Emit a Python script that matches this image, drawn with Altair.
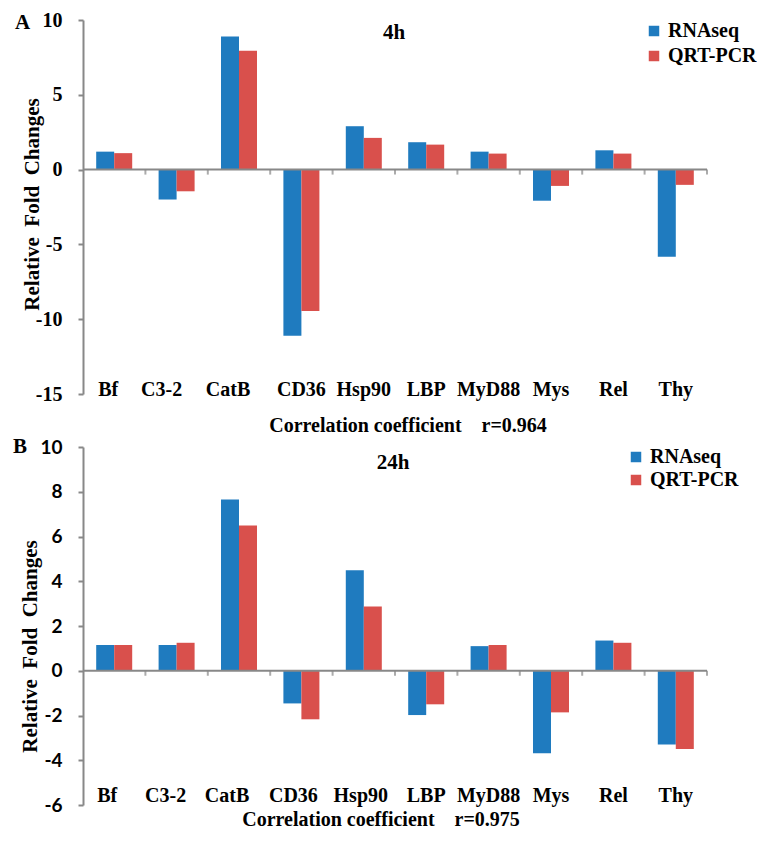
import altair as alt
import pandas as pd

genes = ["Bf", "C3-2", "CatB", "CD36", "Hsp90", "LBP", "MyD88", "Mys", "Rel", "Thy"]
series = ["RNAseq", "QRT-PCR"]

rnaseq_4h = [1.2, -2.0, 8.9, -11.1, 2.9, 1.83, 1.2, -2.08, 1.29, -5.83]
qrtpcr_4h = [1.1, -1.45, 7.95, -9.45, 2.12, 1.67, 1.07, -1.09, 1.07, -1.02]
rnaseq_24h = [1.15, 1.15, 7.65, -1.46, 4.49, -1.98, 1.1, -3.69, 1.35, -3.3]
qrtpcr_24h = [1.15, 1.25, 6.49, -2.17, 2.87, -1.5, 1.15, -1.86, 1.25, -3.5]

ticks_4h = [-15, -10, -5, 0, 5, 10]
ticks_24h = [-6, -4, -2, 0, 2, 4, 6, 8, 10]

BLUE = "#1f7bbf"
RED = "#d9504c"
GRAY = "#888888"
SERIF = "Liberation Serif"
NB = "\u00a0"

# small horizontal nudges of the category labels (layout only)
NUDGE_TOP = "datum.value=='Bf'?-6:datum.value=='C3-2'?-15:datum.value=='CatB'?-11:0"
NUDGE_BOT = "datum.value=='Bf'?-7:datum.value=='C3-2'?-11:datum.value=='CatB'?-12:datum.value=='CD36'?-8:datum.value=='Hsp90'?-3:0"


def panel(rna, qpcr, domain, ticks, height, tick_font, tick_size,
          label_pad, nudge, title_x, title_y, legend_x, legend_y, row_pad,
          tag, tag_xy, ptitle, ptitle_xy, corr, corr_xy):
    df = pd.DataFrame({
        "gene": genes * 2,
        "series": [series[0]] * len(genes) + [series[1]] * len(genes),
        "value": rna + qpcr,
    })
    x = alt.X(
        "gene:N", sort=genes,
        scale=alt.Scale(paddingInner=0, paddingOuter=0),
        axis=alt.Axis(
            title=None, domain=False, ticks=False, labelAngle=0,
            labelFont=SERIF, labelFontSize=20, labelFontWeight="bold",
            labelColor="black", labelBaseline="middle",
            labelPadding=label_pad, labelOverlap=False, labelBound=False,
            labelOffset={"expr": nudge},
        ),
    )
    y = alt.Y(
        "value:Q",
        scale=alt.Scale(domain=domain, nice=False, zero=False),
        axis=alt.Axis(
            values=ticks, grid=False,
            title=f"Relative{NB}{NB}Fold{NB}{NB}Changes",
            labelExpr="'' + datum.value",
            domainColor=GRAY, domainWidth=2, tickColor=GRAY, tickWidth=2,
            tickSize=5, labelFont=tick_font, labelFontSize=tick_size,
            labelFontWeight="bold", labelColor="black", labelPadding=16,
            titleFont=SERIF, titleFontSize=21, titleFontWeight="bold",
            titleColor="black", titleAngle=270, titleX=title_x,
            titleY=title_y, titleAlign="center", titleBaseline="middle",
        ),
    )
    bars = alt.Chart(df).mark_bar().encode(
        x=x,
        xOffset=alt.XOffset("series:N", sort=series,
                            scale=alt.Scale(paddingOuter=0.733, paddingInner=0)),
        y=y,
        color=alt.Color(
            "series:N", sort=series,
            scale=alt.Scale(domain=series, range=[BLUE, RED]),
            legend=alt.Legend(
                title=None, orient="none", legendX=legend_x, legendY=legend_y,
                labelFont=SERIF, labelFontSize=20, labelFontWeight="bold",
                labelColor="black", symbolType="square", symbolSize=110,
                symbolStrokeWidth=0, rowPadding=row_pad, labelOffset=4,
                padding=0,
            ),
        ),
    )
    zero = alt.Chart(pd.DataFrame({"v": [0]})).mark_rule(
        color=GRAY, strokeWidth=2
    ).encode(y=alt.Y("v:Q"))
    tk = alt.Chart(pd.DataFrame({"gene": genes})).mark_tick(
        orient="vertical", size=5, thickness=2, yOffset=2.5, color=GRAY
    ).encode(x=alt.X("gene:N", sort=genes, bandPosition=1), y=alt.datum(0))

    def txt(s, xy, size, baseline="middle", align="center"):
        return alt.Chart(pd.DataFrame({"t": [s]})).mark_text(
            font=SERIF, fontSize=size, fontWeight="bold", color="black",
            align=align, baseline=baseline,
        ).encode(text="t:N", x=alt.value(xy[0]), y=alt.value(xy[1]))

    return alt.layer(
        bars, zero, tk,
        txt(tag, tag_xy, 21, "alphabetic", "left"),
        txt(ptitle, ptitle_xy, 21),
        txt(corr, corr_xy, 20),
    ).properties(width=624, height=height)


corr_top = f"Correlation coefficient{NB}{NB}{NB}{NB}r=0.964"
corr_bot = f"Correlation coefficient{NB}{NB}{NB}{NB}r=0.975"

top = panel(rnaseq_4h, qrtpcr_4h, [-15, 10], ticks_4h, 374, SERIF, 20,
            -5, NUDGE_TOP, -51, 184, 561, 1, 5,
            "A", (-68, 9), "4h", (311, 13),
            corr_top, (325, 406))
bottom = panel(rnaseq_24h, qrtpcr_24h, [-6, 10], ticks_24h, 358, "Lato", 19,
               -10, NUDGE_BOT, -53, 199, 543, 0, 3,
               "B", (-70, 6), "24h", (310, 16),
               corr_bot, (298, 373))

chart = alt.vconcat(top, bottom, spacing=53, bounds="flush").resolve_scale(
    color="independent"
).properties(
    padding={"left": 5, "top": 2, "right": 0, "bottom": 0},
).configure_view(strokeWidth=0)

chart.save("out.html", embed_options={"renderer": "svg", "actions": False})
